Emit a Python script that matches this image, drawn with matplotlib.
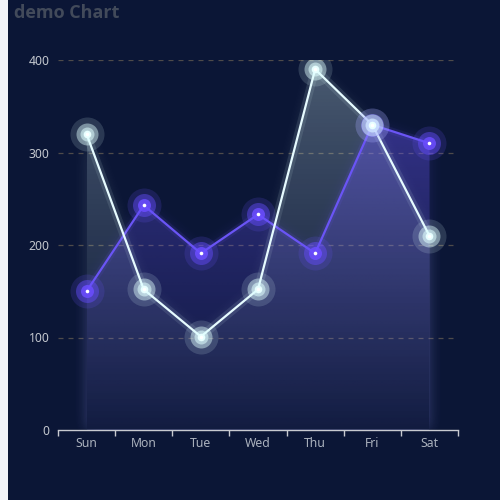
import numpy as np
import matplotlib
matplotlib.use("Agg")
import matplotlib.pyplot as plt
from matplotlib.patches import Polygon, Rectangle
from matplotlib.colors import to_rgb
from matplotlib.path import Path

# ---- data ----
categories = ["Sun", "Mon", "Tue", "Wed", "Thu", "Fri", "Sat"]
series_white = [320, 152, 101, 152, 390, 330, 210]
series_purple = [150, 243, 191, 233, 191, 330, 310]
y_ticks = [0, 100, 200, 300, 400]
title = "demo Chart"

BG = "#0b1636"
WHITE = "#e0ffff"
PURPLE = "#6a55f5"

plt.rcParams['font.family'] = ['Noto Sans', 'DejaVu Sans']

fig = plt.figure(figsize=(5, 5), dpi=100)
fig.patch.set_facecolor(BG)
fig.patches.append(Rectangle((0, 0), 8 / 500, 1, transform=fig.transFigure,
                             facecolor="#f2f4f9", edgecolor="none", zorder=0))

ax = fig.add_axes([58 / 500, 70 / 500, 400 / 500, 370 / 500])
ax.set_facecolor(BG)

x = np.arange(len(categories))
XL = (-0.5, len(categories) - 0.5)
YL = (0, 400)

# grid lines
for t in y_ticks[1:]:
    ax.axhline(t, color="#4e4b4a", lw=0.9, ls=(0, (4, 4)), zorder=1)


def blur1d(a, sigma, axis):
    r = int(3 * sigma)
    k = np.exp(-0.5 * (np.arange(-r, r + 1) / sigma) ** 2)
    k /= k.sum()
    return np.apply_along_axis(lambda v: np.convolve(v, k, mode="same"), axis, a)


def area(ax, xs, ys, color, a_top, a_bot, glow_alpha, z):
    verts = [(xs[0], 0)] + list(zip(xs, ys)) + [(xs[-1], 0)]
    rgb = np.array(to_rgb(color))
    # glow (shadow blur), outside the area only
    W, H = 400, 370
    gx = np.linspace(XL[0], XL[1], W)
    gy = np.linspace(YL[1], YL[0], H)
    GX, GY = np.meshgrid(gx, gy)
    p = Path(verts)
    m = p.contains_points(np.c_[GX.ravel(), GY.ravel()]).reshape(H, W).astype(float)
    b = blur1d(blur1d(m, 7, 0), 7, 1)
    glow = np.zeros((H, W, 4))
    glow[..., :3] = rgb
    glow[..., 3] = b * (1 - m) * glow_alpha
    ax.imshow(glow, extent=[XL[0], XL[1], YL[0], YL[1]], aspect="auto",
              origin="upper", zorder=z - 0.5, interpolation="bilinear")
    patch = Polygon(verts, closed=True, facecolor="none", edgecolor="none")
    ax.add_patch(patch)
    grad = np.zeros((256, 1, 4))
    grad[..., :3] = rgb
    tt = np.linspace(0, 1, 256)
    grad[:, 0, 3] = a_top + (a_bot - a_top) * tt ** 0.8
    im = ax.imshow(grad, extent=[xs[0], xs[-1], 0, max(ys)], aspect="auto",
                   origin="upper", zorder=z, interpolation="bilinear")
    im.set_clip_path(patch)


area(ax, x, series_white, "#e0ffff", 0.30, 0.02, 0.14, 2)
area(ax, x, series_purple, "#6e5aff", 0.42, 0.04, 0.18, 3)


def s_of(r):
    return (1.44 * r) ** 2


# lines with glow
ax.plot(x, series_purple, color=PURPLE, lw=5, alpha=0.10, zorder=4, solid_capstyle="round")
ax.plot(x, series_purple, color=PURPLE, lw=1.6, zorder=4.1)
ax.plot(x, series_white, color=WHITE, lw=6, alpha=0.10, zorder=5, solid_capstyle="round")
ax.plot(x, series_white, color="#e6fbff", lw=1.6, zorder=5.1)

# markers purple
for r, c, a in [(17, (0.40, 0.32, 0.95), 0.18), (11.5, (0.40, 0.30, 1.0), 0.45),
                (6.5, (0.42, 0.30, 1.0), 0.85)]:
    ax.scatter(x, series_purple, s=s_of(r), color=c, alpha=a, lw=0, zorder=6)
ax.scatter(x, series_purple, s=s_of(1.8), color="white", lw=0, zorder=6.2)

# markers white
for r, c, a in [(17, (0.88, 1, 1), 0.15), (11, (0.88, 1, 1), 0.45),
                (7, (0.88, 1, 1), 0.55)]:
    ax.scatter(x, series_white, s=s_of(r), color=c, alpha=a, lw=0, zorder=7)
ax.scatter(x, series_white, s=s_of(3.8), color="#e8ffff", lw=0, zorder=7.2)
ax.scatter(x, series_white, s=s_of(1.8), color="white", lw=0, zorder=7.3)

ax.set_xlim(*XL)
ax.set_ylim(*YL)

for sp in ["top", "right", "left"]:
    ax.spines[sp].set_visible(False)
ax.spines["bottom"].set_color("#c8cad0")
ax.spines["bottom"].set_linewidth(1)
ax.spines["bottom"].set_zorder(8)

ax.set_xticks(x)
ax.set_xticklabels(categories)
ax.set_xticks(np.arange(-0.5, len(categories), 1), minor=True)
ax.tick_params(axis="x", which="major", length=0, pad=5, labelsize=8.8, labelcolor="#aab1bd")
ax.tick_params(axis="x", which="minor", length=4, width=1, color="#c8cad0", direction="out")
ax.set_yticks(y_ticks)
ax.set_yticklabels([str(t) for t in y_ticks])
ax.tick_params(axis="y", length=0, pad=6, labelsize=8.8, labelcolor="#c3c7ce")

fig.text(14 / 500, 1 - 13 / 500, title, fontsize=13, fontweight="bold",
         family=["Open Sans", "DejaVu Sans"],
         color="#424a5a", ha="left", va="center")

fig.savefig("out.png", dpi=100, facecolor=BG)
